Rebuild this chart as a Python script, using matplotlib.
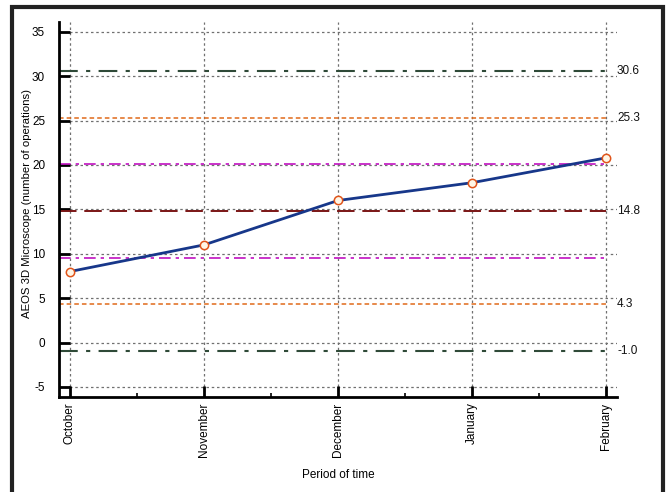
import matplotlib
matplotlib.use("Agg")
import matplotlib.pyplot as plt
from matplotlib.patches import Rectangle

plt.rcParams['font.family'] = ['Liberation Sans', 'DejaVu Sans']

months = ["October", "November", "December", "January", "February"]
operations = [8, 11, 16, 18, 20.8]

center_line = 14.8
control_limits = [30.6, -1.0]
two_sigma_limits = [25.3, 4.3]
one_sigma_limits = [20.1, 9.5]
labelled_values = [30.6, 25.3, 14.8, 4.3, -1.0]
label_texts = ["30.6", "25.3", "14.8", "4.3", "-1.0"]
y_ticks = [-5, 0, 5, 10, 15, 20, 25, 30, 35]

W, H = 669, 492
fig = plt.figure(figsize=(W / 100, H / 100), dpi=100)
fig.patch.set_facecolor("white")
fig.patches.append(Rectangle((12 / W, -0.05), (663 - 12) / W, 1.05 - 7 / H,
                             transform=fig.transFigure, fill=False,
                             edgecolor="#222222", linewidth=3))

ax = fig.add_axes([59 / W, 1 - 397 / H, (617 - 59) / W, (397 - 22) / H])
x = list(range(len(months)))

xmin, xmax = -0.082, 4.082
ax.set_xlim(xmin, xmax)
ax.set_ylim(-6.13, 36.1)
line_end = (4 - xmin) / (xmax - xmin)

# grid
for yv in y_ticks:
    ax.axhline(yv, color="#707070", lw=0.9, ls=(0, (2, 2.2)), zorder=1)
for xv in x:
    ax.axvline(xv, color="#707070", lw=0.9, ls=(0, (2, 2.2)), zorder=1)

# control lines
for v in control_limits:
    ax.axhline(v, xmin=0, xmax=line_end, color="#2f4a38", lw=1.5,
               ls=(0, (9, 4, 2, 4)), zorder=2)
for v in two_sigma_limits:
    ax.axhline(v, xmin=0, xmax=line_end, color="#e06a1a", lw=1.1,
               ls=(0, (3, 2)), zorder=2)
for v in one_sigma_limits:
    ax.axhline(v, xmin=0, xmax=line_end, color="#c010c0", lw=1.2,
               ls=(0, (7, 3, 2, 3)), zorder=2)
ax.axhline(center_line, xmin=0, xmax=line_end, color="#7a1515",
           lw=1.4, ls=(0, (9, 4)), zorder=2)

ax.plot(x, operations, color="#17378a", lw=2, marker="o", ms=6,
        mfc="#fff6e6", mec="#e0541a", mew=1.1, zorder=5, clip_on=False)

for v, t in zip(labelled_values, label_texts):
    ax.annotate(t, xy=(1, v), xycoords=("axes fraction", "data"),
                xytext=(0, 0), textcoords="offset points",
                va="center", ha="left", fontsize=8.5, color="#111111")

ax.set_xticks(x)
ax.set_xticklabels(months, rotation=90, fontsize=8.5)
ax.set_xticks([0.5, 1.5, 2.5, 3.5], minor=True)
ax.set_yticks(y_ticks)
ax.set_yticklabels([str(v) for v in y_ticks], fontsize=8.5)
ax.tick_params(axis="both", which="major", direction="in", length=8, width=2,
               color="black")
ax.tick_params(axis="x", which="major", pad=4)
ax.tick_params(axis="y", which="major", pad=10)
ax.tick_params(axis="x", which="minor", direction="in", length=3, width=1.2)

for s in ["top", "right"]:
    ax.spines[s].set_visible(False)
for s in ["left", "bottom"]:
    ax.spines[s].set_linewidth(2)

fig.text(338 / W, 1 - 475 / H, "Period of time", fontsize=8.5,
         ha="center", va="center")
fig.text(27 / W, 1 - 204 / H, "AEOS 3D Microscope (number of operations)",
         fontsize=8.2, rotation=90, ha="center", va="center")

fig.savefig("out.png", dpi=100)
